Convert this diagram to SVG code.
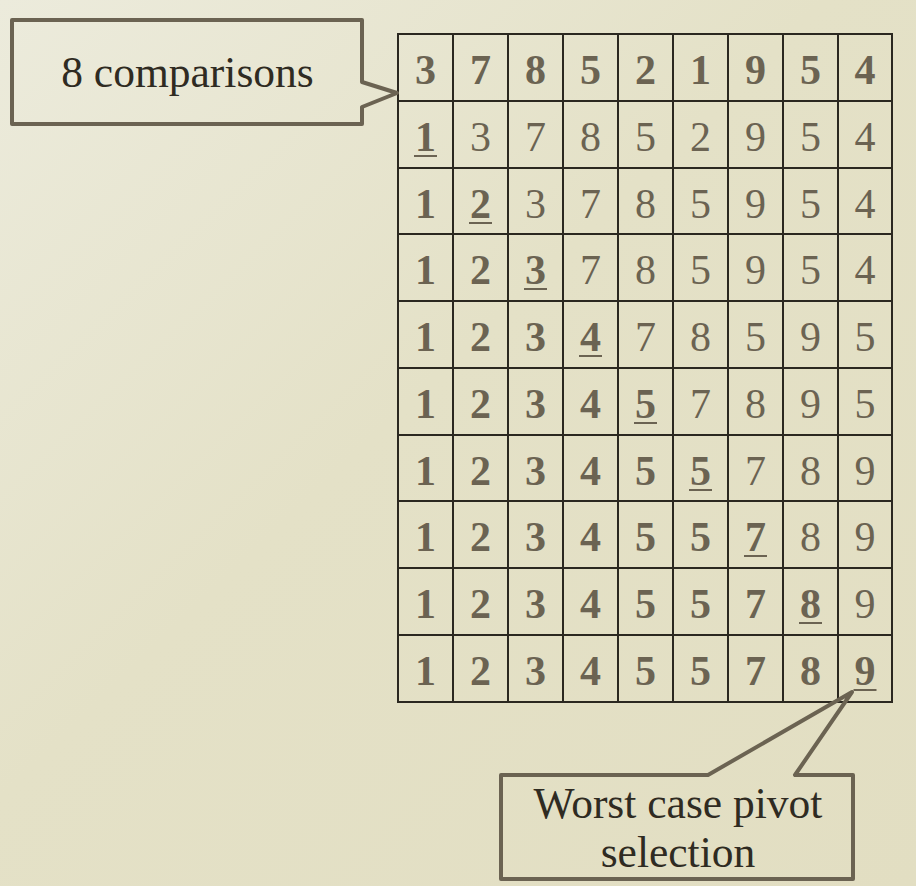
<svg xmlns="http://www.w3.org/2000/svg" width="916" height="886" viewBox="0 0 916 886">
<defs>
<linearGradient id="bg" x1="0" y1="0" x2="1" y2="1">
<stop offset="0" stop-color="#ecebdc"/>
<stop offset="0.45" stop-color="#e4e1c7"/>
<stop offset="1" stop-color="#e2dec2"/>
</linearGradient>
<style>
.b{font-family:"Liberation Serif","Times New Roman",serif;font-weight:bold;font-size:42px;fill:#6b6352;text-anchor:middle}
.r{font-family:"Liberation Serif","Times New Roman",serif;font-size:42px;fill:#6b6352;text-anchor:middle}
.u{stroke:#6b6352;stroke-width:2}
.g{stroke:#2b2820;stroke-width:2;fill:none}
.co{fill:none;stroke:#6b6352;stroke-width:4;stroke-linejoin:round}
.ct{font-family:"Liberation Serif","Times New Roman",serif;font-size:43.5px;fill:#2f2b22;text-anchor:middle}
</style>
</defs>
<rect width="916" height="886" fill="url(#bg)"/>
<g id="grid" class="g">
<rect x="398" y="34" width="494" height="668"/>
<path d="M453 34V702M508 34V702M563 34V702M618 34V702M673 34V702M728 34V702M783 34V702M838 34V702"/>
<path d="M398 101H892M398 168H892M398 234H892M398 301H892M398 368H892M398 435H892M398 501H892M398 568H892M398 635H892"/>
</g>
<g id="row1">
<text class="b" x="425.5" y="84">3</text><text class="b" x="480.5" y="84">7</text><text class="b" x="535.5" y="84">8</text><text class="b" x="590.5" y="84">5</text><text class="b" x="645.5" y="84">2</text><text class="b" x="700.5" y="84">1</text><text class="b" x="755.5" y="84">9</text><text class="b" x="810.5" y="84">5</text><text class="b" x="865" y="84">4</text>
</g>
<g id="row2">
<text class="b" x="425.5" y="151">1</text><text class="r" x="480.5" y="151">3</text><text class="r" x="535.5" y="151">7</text><text class="r" x="590.5" y="151">8</text><text class="r" x="645.5" y="151">5</text><text class="r" x="700.5" y="151">2</text><text class="r" x="755.5" y="151">9</text><text class="r" x="810.5" y="151">5</text><text class="r" x="865" y="151">4</text>
<line class="u" x1="414" y1="156" x2="437" y2="156"/>
</g>
<g id="row3">
<text class="b" x="425.5" y="218">1</text><text class="b" x="480.5" y="218">2</text><text class="r" x="535.5" y="218">3</text><text class="r" x="590.5" y="218">7</text><text class="r" x="645.5" y="218">8</text><text class="r" x="700.5" y="218">5</text><text class="r" x="755.5" y="218">9</text><text class="r" x="810.5" y="218">5</text><text class="r" x="865" y="218">4</text>
<line class="u" x1="469" y1="223" x2="492" y2="223"/>
</g>
<g id="row4">
<text class="b" x="425.5" y="284">1</text><text class="b" x="480.5" y="284">2</text><text class="b" x="535.5" y="284">3</text><text class="r" x="590.5" y="284">7</text><text class="r" x="645.5" y="284">8</text><text class="r" x="700.5" y="284">5</text><text class="r" x="755.5" y="284">9</text><text class="r" x="810.5" y="284">5</text><text class="r" x="865" y="284">4</text>
<line class="u" x1="524" y1="289" x2="547" y2="289"/>
</g>
<g id="row5">
<text class="b" x="425.5" y="351">1</text><text class="b" x="480.5" y="351">2</text><text class="b" x="535.5" y="351">3</text><text class="b" x="590.5" y="351">4</text><text class="r" x="645.5" y="351">7</text><text class="r" x="700.5" y="351">8</text><text class="r" x="755.5" y="351">5</text><text class="r" x="810.5" y="351">9</text><text class="r" x="865" y="351">5</text>
<line class="u" x1="579" y1="356" x2="602" y2="356"/>
</g>
<g id="row6">
<text class="b" x="425.5" y="418">1</text><text class="b" x="480.5" y="418">2</text><text class="b" x="535.5" y="418">3</text><text class="b" x="590.5" y="418">4</text><text class="b" x="645.5" y="418">5</text><text class="r" x="700.5" y="418">7</text><text class="r" x="755.5" y="418">8</text><text class="r" x="810.5" y="418">9</text><text class="r" x="865" y="418">5</text>
<line class="u" x1="634" y1="423" x2="657" y2="423"/>
</g>
<g id="row7">
<text class="b" x="425.5" y="485">1</text><text class="b" x="480.5" y="485">2</text><text class="b" x="535.5" y="485">3</text><text class="b" x="590.5" y="485">4</text><text class="b" x="645.5" y="485">5</text><text class="b" x="700.5" y="485">5</text><text class="r" x="755.5" y="485">7</text><text class="r" x="810.5" y="485">8</text><text class="r" x="865" y="485">9</text>
<line class="u" x1="689" y1="490" x2="712" y2="490"/>
</g>
<g id="row8">
<text class="b" x="425.5" y="551">1</text><text class="b" x="480.5" y="551">2</text><text class="b" x="535.5" y="551">3</text><text class="b" x="590.5" y="551">4</text><text class="b" x="645.5" y="551">5</text><text class="b" x="700.5" y="551">5</text><text class="b" x="755.5" y="551">7</text><text class="r" x="810.5" y="551">8</text><text class="r" x="865" y="551">9</text>
<line class="u" x1="744" y1="556" x2="767" y2="556"/>
</g>
<g id="row9">
<text class="b" x="425.5" y="618">1</text><text class="b" x="480.5" y="618">2</text><text class="b" x="535.5" y="618">3</text><text class="b" x="590.5" y="618">4</text><text class="b" x="645.5" y="618">5</text><text class="b" x="700.5" y="618">5</text><text class="b" x="755.5" y="618">7</text><text class="b" x="810.5" y="618">8</text><text class="r" x="865" y="618">9</text>
<line class="u" x1="799" y1="623" x2="822" y2="623"/>
</g>
<g id="row10">
<text class="b" x="425.5" y="685">1</text><text class="b" x="480.5" y="685">2</text><text class="b" x="535.5" y="685">3</text><text class="b" x="590.5" y="685">4</text><text class="b" x="645.5" y="685">5</text><text class="b" x="700.5" y="685">5</text><text class="b" x="755.5" y="685">7</text><text class="b" x="810.5" y="685">8</text><text class="b" x="865" y="685">9</text>
<line class="u" x1="853.5" y1="690" x2="876.5" y2="690"/>
</g>
<g id="callout-comparisons">
<path class="co" d="M12 20H362V82L397 93L362 107V124H12Z"/>
<text class="ct" x="187.5" y="87">8 comparisons</text>
</g>
<g id="callout-pivot">
<path class="co" d="M501 775H708L852 692L795 775H853V879H501Z"/>
<text class="ct" x="678" y="818">Worst case pivot</text>
<text class="ct" x="678" y="867">selection</text>
</g>
</svg>
